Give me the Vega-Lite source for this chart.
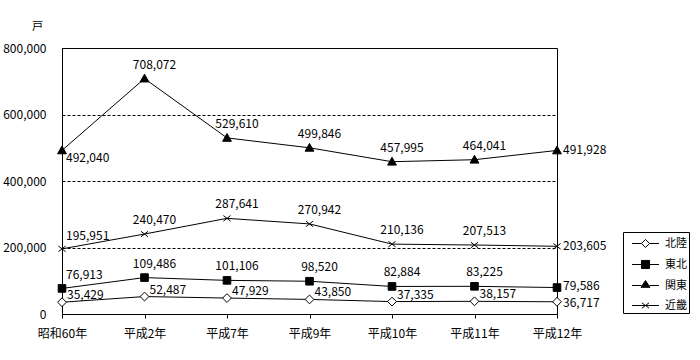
{
  "$schema": "https://vega.github.io/schema/vega-lite/v6.json",
  "width": 495,
  "height": 266,
  "autosize": "none",
  "padding": {"left": 62, "top": 48, "right": 143, "bottom": 46},
  "background": "white",
  "data": {
    "values": [
      {"year": "昭和60年", "series": "北陸", "value": 35429},
      {"year": "平成2年", "series": "北陸", "value": 52487},
      {"year": "平成7年", "series": "北陸", "value": 47929},
      {"year": "平成9年", "series": "北陸", "value": 43850},
      {"year": "平成10年", "series": "北陸", "value": 37335},
      {"year": "平成11年", "series": "北陸", "value": 38157},
      {"year": "平成12年", "series": "北陸", "value": 36717},
      {"year": "昭和60年", "series": "東北", "value": 76913},
      {"year": "平成2年", "series": "東北", "value": 109486},
      {"year": "平成7年", "series": "東北", "value": 101106},
      {"year": "平成9年", "series": "東北", "value": 98520},
      {"year": "平成10年", "series": "東北", "value": 82884},
      {"year": "平成11年", "series": "東北", "value": 83225},
      {"year": "平成12年", "series": "東北", "value": 79586},
      {"year": "昭和60年", "series": "関東", "value": 492040},
      {"year": "平成2年", "series": "関東", "value": 708072},
      {"year": "平成7年", "series": "関東", "value": 529610},
      {"year": "平成9年", "series": "関東", "value": 499846},
      {"year": "平成10年", "series": "関東", "value": 457995},
      {"year": "平成11年", "series": "関東", "value": 464041},
      {"year": "平成12年", "series": "関東", "value": 491928},
      {"year": "昭和60年", "series": "近畿", "value": 195951},
      {"year": "平成2年", "series": "近畿", "value": 240470},
      {"year": "平成7年", "series": "近畿", "value": 287641},
      {"year": "平成9年", "series": "近畿", "value": 270942},
      {"year": "平成10年", "series": "近畿", "value": 210136},
      {"year": "平成11年", "series": "近畿", "value": 207513},
      {"year": "平成12年", "series": "近畿", "value": 203605}
    ]
  },
  "encoding": {
    "x": {
      "field": "year", "type": "ordinal", "sort": null,
      "scale": {"type": "point", "padding": 0},
      "axis": {"title": null, "labelAngle": 0, "tickSize": 4, "labelPadding": 10, "grid": false, "labelFontSize": 12}
    },
    "y": {
      "field": "value", "type": "quantitative",
      "scale": {"domain": [0, 800000], "nice": false},
      "axis": {
        "title": "戸", "titleAngle": 0, "titleX": -25, "titleY": -22,
        "titleAlign": "center", "titleBaseline": "middle", "titleFontWeight": "normal", "titleFontSize": 11,
        "values": [0, 200000, 400000, 600000, 800000], "format": ",d",
        "ticks": false, "tickSize": 0, "labelPadding": 16, "labelFontSize": 12,
        "grid": true, "gridDash": [3, 2], "gridColor": "black", "gridOpacity": 1, "gridWidth": 1
      }
    }
  },
  "layer": [
    {
      "mark": {"type": "line", "stroke": "black", "strokeWidth": 1},
      "encoding": {"detail": {"field": "series"}, "order": {"value": null}}
    },
    {
      "mark": {"type": "point", "filled": true, "opacity": 1, "stroke": "black", "strokeWidth": 1, "size": 64},
      "encoding": {
        "shape": {
          "field": "series", "legend": null,
          "scale": {
            "domain": ["北陸", "東北", "関東", "近畿"],
            "range": [
              "M-1.1,0L0,-1.1L1.1,0L0,1.1Z",
              "M-0.95,-0.95H0.95V0.95H-0.95Z",
              "M0,-1.1L1.1,0.85H-1.1Z",
              "M-0.9,-0.7L0.9,0.7M-0.9,0.7L0.9,-0.7"
            ]
          }
        },
        "fill": {
          "field": "series", "legend": null,
          "scale": {"domain": ["北陸", "東北", "関東", "近畿"], "range": ["white", "black", "black", "black"]}
        }
      }
    },
    {
      "transform": [{"filter": "false"}],
      "mark": {"type": "point", "filled": true, "opacity": 1, "stroke": "black", "strokeWidth": 1},
      "encoding": {
        "shape": {
          "field": "series",
          "scale": {
            "domain": ["北陸", "東北", "関東", "近畿"],
            "range": [
              "M-1.5,0H-0.45M0.45,0H1.5M-0.45,0L0,-0.45L0.45,0L0,0.45Z",
              "M-1.5,0H-0.45M0.45,0H1.5M-0.45,-0.45H0.45V0.45H-0.45Z",
              "M-1.5,0H-0.45M0.45,0H1.5M0,-0.55L0.5,0.2H-0.5Z",
              "M-1.5,0H1.5M-0.4,-0.3L0.4,0.3M-0.4,0.3L0.4,-0.3"
            ]
          },
          "legend": {
            "title": null, "orient": "none", "legendX": 561, "legendY": 184,
            "strokeColor": "black", "fillColor": "white", "padding": 2, "rowPadding": 5,
            "symbolSize": 324, "symbolStrokeColor": "black", "symbolStrokeWidth": 1, "symbolOpacity": 1,
            "symbolOffset": 11, "labelOffset": 10, "labelFontSize": 11, "labelColor": "black",
            "encode": {"symbols": {"update": {"stroke": {"value": "black"}, "strokeWidth": {"value": 1}, "opacity": {"value": 1}}}}
          }
        },
        "fill": {
          "field": "series",
          "scale": {"domain": ["北陸", "東北", "関東", "近畿"], "range": ["white", "black", "black", "black"]},
          "legend": {
            "title": null, "orient": "none", "legendX": 561, "legendY": 184,
            "strokeColor": "black", "fillColor": "white", "padding": 2, "rowPadding": 5,
            "symbolSize": 324, "symbolStrokeColor": "black", "symbolStrokeWidth": 1, "symbolOpacity": 1,
            "symbolOffset": 11, "labelOffset": 10, "labelFontSize": 11, "labelColor": "black",
            "encode": {"symbols": {"update": {"stroke": {"value": "black"}, "strokeWidth": {"value": 1}, "opacity": {"value": 1}}}}
          }
        }
      }
    },
    {
      "transform": [{"filter": "datum.year === '昭和60年' && (datum.series === '近畿' || datum.series === '東北')"}],
      "mark": {"type": "text", "align": "left", "baseline": "middle", "dx": 4, "dy": -13, "fontSize": 12, "color": "black"},
      "encoding": {"text": {"field": "value", "type": "quantitative", "format": ",d"}}
    },
    {
      "transform": [{"filter": "datum.year === '昭和60年' && datum.series === '関東'"}],
      "mark": {"type": "text", "align": "left", "baseline": "middle", "dx": 4, "dy": 8, "fontSize": 12, "color": "black"},
      "encoding": {"text": {"field": "value", "type": "quantitative", "format": ",d"}}
    },
    {
      "transform": [{"filter": "datum.series === '北陸' && datum.year !== '平成12年'"}],
      "mark": {"type": "text", "align": "left", "baseline": "middle", "dx": 5, "dy": -7, "fontSize": 12, "color": "black"},
      "encoding": {"text": {"field": "value", "type": "quantitative", "format": ",d"}}
    },
    {
      "transform": [{"filter": "datum.series !== '北陸' && datum.year !== '昭和60年' && datum.year !== '平成12年'"}],
      "mark": {"type": "text", "align": "center", "baseline": "middle", "dx": 10, "dy": -14, "fontSize": 12, "color": "black"},
      "encoding": {"text": {"field": "value", "type": "quantitative", "format": ",d"}}
    },
    {
      "transform": [{"filter": "datum.year === '平成12年' && (datum.series === '関東' || datum.series === '近畿')"}],
      "mark": {"type": "text", "align": "left", "baseline": "middle", "dx": 6, "dy": 0, "fontSize": 12, "color": "black"},
      "encoding": {"text": {"field": "value", "type": "quantitative", "format": ",d"}}
    },
    {
      "transform": [{"filter": "datum.year === '平成12年' && datum.series === '東北'"}],
      "mark": {"type": "text", "align": "left", "baseline": "middle", "dx": 6, "dy": -2, "fontSize": 12, "color": "black"},
      "encoding": {"text": {"field": "value", "type": "quantitative", "format": ",d"}}
    },
    {
      "transform": [{"filter": "datum.year === '平成12年' && datum.series === '北陸'"}],
      "mark": {"type": "text", "align": "left", "baseline": "middle", "dx": 6, "dy": 1, "fontSize": 12, "color": "black"},
      "encoding": {"text": {"field": "value", "type": "quantitative", "format": ",d"}}
    }
  ],
  "resolve": {"scale": {"shape": "independent", "fill": "independent"}},
  "config": {
    "font": "Noto Sans CJK JP",
    "view": {"stroke": "black", "strokeWidth": 1},
    "axis": {"domainColor": "black", "tickColor": "black", "labelColor": "black", "titleColor": "black", "labelFont": "Noto Sans CJK JP", "titleFont": "Noto Sans CJK JP"},
    "legend": {"labelFont": "Noto Sans CJK JP"},
    "text": {"font": "Noto Sans CJK JP"}
  }
}
